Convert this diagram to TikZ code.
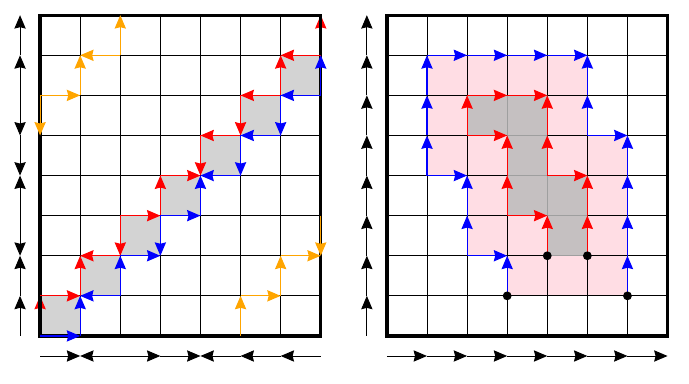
\documentclass[tikz,border=0pt]{standalone}
\usetikzlibrary{arrows.meta}
\definecolor{myorange}{RGB}{255,165,0}
\definecolor{mypink}{RGB}{255,221,228}
\definecolor{cellgray}{RGB}{211,211,211}
\definecolor{regiongray}{RGB}{188,188,188}
\begin{document}
\begin{tikzpicture}[x=1cm,y=1cm,
  arrowed/.style={-{Stealth[length=9.5pt,width=8pt,inset=1pt]}},
  gridline/.style={line width=0.7pt,black},
  border/.style={line width=2.4pt,black},
  redpath/.style={arrowed,red,line width=0.8pt},
  bluepath/.style={arrowed,blue,line width=0.8pt},
  orangepath/.style={arrowed,myorange,line width=0.8pt},
  axisline/.style={arrowed,black,line width=0.7pt},
  dotnode/.style={circle,fill=black,inner sep=0pt,minimum size=0.22cm}]
\useasboundingbox (-1,-1.197) rectangle (16.185,8.379);

% ---------------- left panel ----------------
\foreach \k in {0,...,6} \fill[cellgray] (\k,\k) rectangle ++(1,1);
\draw[gridline] (0,0) grid (7,8);
% red edges lying on the frame go beneath it
\draw[redpath] (0,0) -- (0,1);
\draw[redpath] (7,7) -- (7,8);
\draw[border] (0,0) rectangle (7,8);

\foreach \a/\b/\c/\d in {0/1/1/1, 1/1/1/2, 2/2/1/2, 2/3/2/2, 2/3/3/3, 3/3/3/4, 3/4/4/4,
  4/5/4/4, 5/5/4/5, 5/6/5/5, 6/6/5/6, 6/6/6/7, 7/7/6/7}
  \draw[redpath] (\a,\b) -- (\c,\d);
\foreach \a/\b/\c/\d in {0/0/1/0, 1/0/1/1, 2/1/1/1, 2/1/2/2, 2/2/3/2, 3/3/3/2, 3/3/4/3, 4/3/4/4,
  5/4/4/4, 5/5/5/4, 6/5/5/5, 6/6/6/5, 7/6/6/6, 7/6/7/7}
  \draw[bluepath] (\a,\b) -- (\c,\d);
\foreach \a/\b/\c/\d in {0/6/0/5, 0/6/1/6, 1/6/1/7, 2/7/1/7, 2/7/2/8,
  5/0/5/1, 5/1/6/1, 6/1/6/2, 6/2/7/2, 7/3/7/2}
  \draw[orangepath] (\a,\b) -- (\c,\d);

% left axes
\foreach \a/\b in {0/1, 1/2, 3/2, 3/4, 5/4, 6/5, 6/7, 7/8}
  \draw[axisline] (-0.5,\a) -- (-0.5,\b);
\foreach \a/\b in {0/1, 2/1, 2/3, 3/4, 5/4, 6/5, 7/6}
  \draw[axisline] (\a,-0.5) -- (\b,-0.5);

% ---------------- right panel ----------------
\begin{scope}[xshift=8.65cm]
\fill[mypink] (1,4) -- (1,7) -- (5,7) -- (5,5) -- (6,5) -- (6,1) -- (3,1) -- (3,2) -- (2,2) -- (2,4) -- cycle;
\draw[gridline] (0,0) grid (7,8);
\fill[regiongray, fill opacity=0.85] (2,5) -- (2,6) -- (4,6) -- (4,4) -- (5,4) -- (5,2) -- (4,2) -- (4,3) -- (3,3) -- (3,5) -- cycle;
\draw[border] (0,0) rectangle (7,8);

\foreach \a/\b/\c/\d in {2/5/2/6, 2/6/3/6, 3/6/4/6, 2/5/3/5, 3/3/3/4, 3/4/3/5, 3/3/4/3, 4/2/4/3,
  4/4/4/5, 4/5/4/6, 4/4/5/4, 5/2/5/3, 5/3/5/4}
  \draw[redpath] (\a,\b) -- (\c,\d);
\foreach \a/\b/\c/\d in {1/4/1/5, 1/5/1/6, 1/6/1/7, 1/7/2/7, 2/7/3/7, 3/7/4/7, 4/7/5/7,
  5/5/5/6, 5/6/5/7, 5/5/6/5, 6/1/6/2, 6/2/6/3, 6/3/6/4, 6/4/6/5,
  3/1/3/2, 2/2/3/2, 2/2/2/3, 2/3/2/4, 1/4/2/4}
  \draw[bluepath] (\a,\b) -- (\c,\d);

\node[dotnode] (s1) at (3,1) {};
\node[dotnode] (s2) at (6,1) {};
\node[dotnode] (s3) at (4,2) {};
\node[dotnode] (s4) at (5,2) {};

\foreach \k [evaluate=\k as \n using int(\k+1)] in {0,...,7}
  \draw[axisline] (-0.5,\k) -- (-0.5,\n);
\foreach \k [evaluate=\k as \n using int(\k+1)] in {0,...,6}
  \draw[axisline] (\k,-0.5) -- (\n,-0.5);
\end{scope}
\end{tikzpicture}
\end{document}
